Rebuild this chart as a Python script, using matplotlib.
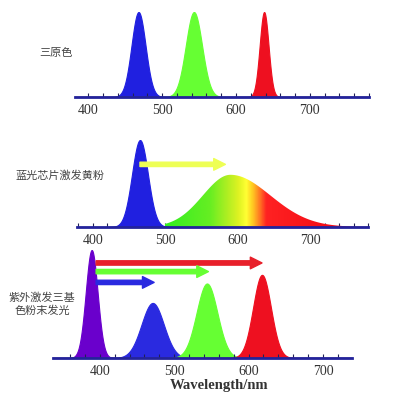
import numpy as np
import matplotlib.pyplot as plt
from matplotlib.colors import LinearSegmentedColormap

plt.rcParams['font.family'] = ['Liberation Serif', 'DejaVu Serif']
CJK = ['Noto Sans CJK SC', 'DejaVu Sans']

# panel 1: three primary colours
rgb_centers = [468, 543, 638]
rgb_widths = [9.5, 11, 6]
rgb_heights = [1.0, 1.0, 1.0]
rgb_colors = ['#2020e0', '#66ff33', '#ee1020']

# panel 2: blue chip + yellow phosphor
chip_center, chip_width, chip_height = 465, 11, 1.0
phos_center, phos_left, phos_right, phos_height = 590, 38, 55, 0.6
phos_arrow = (465, 583, 0.72)

# panel 3: UV chip + three phosphors
uv_centers = [389, 471, 544, 618]
uv_widths = [8, 15, 14, 12]
uv_heights = [1.0, 0.51, 0.69, 0.77]
uv_colors = ['#6a00cc', '#2a2ae0', '#66ff33', '#ee1020']
uv_arrow_ends = [618, 546, 473]
uv_arrow_y = [0.88, 0.80, 0.70]
uv_arrow_colors = ['#e8202a', '#66ff33', '#2a2ae0']

tick_labels = [400, 500, 600, 700]
labels = ['三原色', '蓝光芯片激发黄粉', '紫外激发三基\n色粉末发光']

wl = np.linspace(330, 790, 1500)


def peak(c, w, h):
    return h * np.exp(-0.5 * ((wl - c) / w) ** 2)


def setup(ax, xlim):
    for s in ['top', 'right', 'left']:
        ax.spines[s].set_visible(False)
    ax.spines['bottom'].set_color('#23239b')
    ax.spines['bottom'].set_linewidth(2)
    ax.spines['bottom'].set_zorder(5)
    ax.set_yticks([])
    ticks = np.arange(360, 781, 20)
    ax.set_xticks(ticks)
    ax.set_xticklabels([str(t) if t in tick_labels else '' for t in ticks])
    ax.tick_params(axis='x', direction='in', length=3, width=0.8, color='#222255',
                   labelsize=10, labelcolor='#333333', pad=5)
    ax.patch.set_alpha(0)
    ax.set_xlim(*xlim)
    ax.set_ylim(0, 1.0)


def arrow(ax, x0, x1, y, color):
    ax.annotate('', xy=(x1, y), xytext=(x0, y),
                arrowprops=dict(arrowstyle='simple,head_width=0.7,head_length=0.7,tail_width=0.26',
                                color=color, shrinkA=0, shrinkB=0, mutation_scale=12))


fig = plt.figure(figsize=(4, 4), dpi=100)

# panel 1
ax1 = fig.add_axes([0.1875, 0.7575, 0.735, 0.2125])
for c, w, h, col in zip(rgb_centers, rgb_widths, rgb_heights, rgb_colors):
    ax1.fill_between(wl, peak(c, w, h), color=col, lw=0.8, edgecolor=col)
setup(ax1, (382, 780))

# panel 2
ax2 = fig.add_axes([0.1925, 0.4325, 0.7275, 0.2175])
sig = np.where(wl < phos_center, phos_left, phos_right)
phos = phos_height * np.exp(-0.5 * ((wl - phos_center) / sig) ** 2)
poly = ax2.fill_between(wl, phos, facecolor='none', lw=0)
cmap = LinearSegmentedColormap.from_list('phos', [
    (0.0, '#33ee22'), (0.22, '#66ee22'), (0.3, '#aaee22'), (0.36, '#ddf222'),
    (0.4, '#ffff33'), (0.43, '#ffcc22'), (0.46, '#ff8822'), (0.5, '#ff2222'),
    (1.0, '#ee0010')])
grad = np.linspace(0, 1, 400).reshape(1, -1)
im = ax2.imshow(grad, cmap=cmap, aspect='auto', extent=[500, 780, 0, phos_height],
                zorder=2)
im.set_clip_path(poly.get_paths()[0], transform=ax2.transData)
ax2.fill_between(wl, peak(chip_center, chip_width, chip_height), color='#2020e0',
                 lw=0.8, edgecolor='#2020e0', zorder=3)
arrow(ax2, phos_arrow[0], phos_arrow[1], phos_arrow[2], '#eeff55')
setup(ax2, (378, 780))

# panel 3
ax3 = fig.add_axes([0.1325, 0.105, 0.7475, 0.27])
for c, w, h, col in zip(uv_centers, uv_widths, uv_heights, uv_colors):
    ax3.fill_between(wl, peak(c, w, h), color=col, lw=0.8, edgecolor=col)
for x1, y, col in zip(uv_arrow_ends, uv_arrow_y, uv_arrow_colors):
    arrow(ax3, 395, x1, y, col)
setup(ax3, (337, 739))

fig.text(0.14, 0.8675, labels[0], family=CJK, fontsize=8, color='#444444',
         ha='center', va='center')
fig.text(0.15, 0.56, labels[1], family=CJK, fontsize=8, color='#444444',
         ha='center', va='center')
fig.text(0.105, 0.24, labels[2], family=CJK, fontsize=8, color='#444444',
         ha='center', va='center', linespacing=1.3)
fig.text(0.5475, 0.0375, 'Wavelength/nm', fontsize=10.5, fontweight='bold',
         color='#333333', ha='center', va='center')

fig.savefig('out.png', dpi=100)
